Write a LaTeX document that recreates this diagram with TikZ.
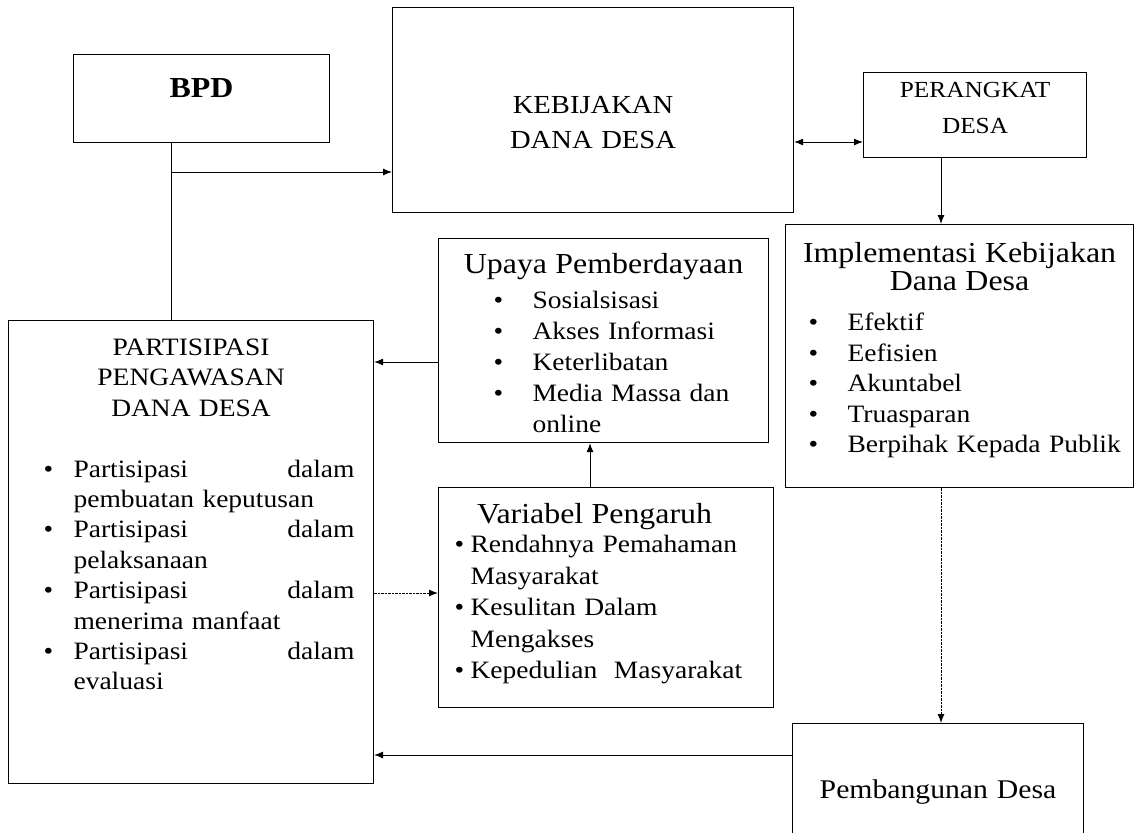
\documentclass[tikz,border=0pt]{standalone}
\usepackage{fontspec}
\setmainfont[FakeStretch=1.1]{Liberation Serif}
\usepackage{tikz}
\usetikzlibrary{arrows.meta,positioning,calc}

% list lines inside the boxes
\newcommand{\itm}[3]{\makebox[#2][l]{\hspace*{#1}\makebox[0pt]{\textbullet}}#3}
\newcommand{\cnt}[2]{\hspace*{#1}#2}
\newcommand{\ttl}[2][29]{\makebox[\linewidth]{\fontsize{#1}{#1}\selectfont #2}}

\begin{document}
\begin{tikzpicture}[x=1pt, y=-1pt,
    box/.style={rectangle, draw=black, line width=1.1pt, inner sep=0pt, anchor=north west, font=\fontsize{25}{31}\selectfont},
    arrow/.style={-{Latex[length=9pt,width=7pt]}, line width=1pt},
    biarrow/.style={{Latex[length=9pt,width=7pt]}-{Latex[length=9pt,width=7pt]}, line width=1pt},
    scanline/.style={dash pattern=on 2.5pt off 1pt}]

\useasboundingbox (0,0) rectangle (1136,833);
\clip (0,0) rectangle (1136,833);

% Top row
\node[box, text width=256pt, align=center, text height=43pt, text depth=45pt, font=\fontsize{29}{29}\selectfont\bfseries] (bpd) at (73,54) {BPD};
\node[box, text width=401pt, align=center, text height=106pt, text depth=99pt, font=\fontsize{26}{35}\selectfont] (kebijakan) at (392,7) {KEBIJAKAN\\DANA DESA};
\node[box, text width=223pt, align=center, text height=25pt, text depth=60pt, font=\fontsize{23}{36}\selectfont] (perangkat) at (863,72) {PERANGKAT\\DESA};

% Middle boxes
\node[box, text width=330pt, align=left, text height=35pt, text depth=169pt] (upaya) at (438,238) {
    \ttl{Upaya Pemberdayaan}\\[4pt]
    \itm{60pt}{94pt}{Sosialsisasi}\\
    \itm{60pt}{94pt}{Akses Informasi}\\
    \itm{60pt}{94pt}{Keterlibatan}\\
    \itm{60pt}{94pt}{Media Massa dan}\\
    \cnt{94pt}{online}
};
\node[box, text width=348pt, align=left, text height=38pt, text depth=225pt, font=\fontsize{25}{30.5}\selectfont] (implementasi) at (785,224) {
    \ttl{Implementasi Kebijakan}\\[-2.5pt]
    \ttl{Dana Desa}\\[9.5pt]
    \itm{28pt}{62pt}{Efektif}\\
    \itm{28pt}{62pt}{Eefisien}\\
    \itm{28pt}{62pt}{Akuntabel}\\
    \itm{28pt}{62pt}{Truasparan}\\
    \itm{28pt}{62pt}{Berpihak Kepada Publik}
};
\node[box, text width=327pt, inner xsep=19pt, align=left, text height=35pt, text depth=428pt, font=\fontsize{25}{30.4}\selectfont] (partisipasi) at (8,320) {
    \ttl[25]{PARTISIPASI}\\
    \ttl[25]{PENGAWASAN}\\
    \ttl[25]{DANA DESA}\\[30.4pt]
    \itm{21pt}{46pt}{Partisipasi\hfill dalam}\\
    \cnt{46pt}{pembuatan keputusan}\\
    \itm{21pt}{46pt}{Partisipasi\hfill dalam}\\
    \cnt{46pt}{pelaksanaan}\\
    \itm{21pt}{46pt}{Partisipasi\hfill dalam}\\
    \cnt{46pt}{menerima manfaat}\\
    \itm{21pt}{46pt}{Partisipasi\hfill dalam}\\
    \cnt{46pt}{evaluasi}
};
\node[box, text width=335pt, align=left, text height=36pt, text depth=184pt, font=\fontsize{25}{31.5}\selectfont] (variabel) at (438,487) {
    \ttl{Variabel Pengaruh\hspace*{23pt}}\\[-2.5pt]
    \itm{21pt}{32pt}{Rendahnya Pemahaman}\\
    \cnt{32pt}{Masyarakat}\\
    \itm{21pt}{32pt}{Kesulitan Dalam}\\
    \cnt{32pt}{Mengakses}\\
    \itm{21pt}{32pt}{Kepedulian\ \ Masyarakat}
};
\node[box, text width=291pt, align=center, text height=75pt, text depth=62pt, font=\fontsize{27}{27}\selectfont] (pembangunan) at (792,723) {Pembangunan Desa};

% Connectors
\coordinate (bpd_split) at (171,172);
\coordinate (keb_row) at (0,142);
\coordinate (imp_col) at (941,0);
\coordinate (upa_row) at (0,362);
\coordinate (var_col) at (590,0);
\coordinate (var_row) at (0,593);
\coordinate (pem_row) at (0,755);

\draw[line width=1pt] (bpd_split |- bpd.south) -- (bpd_split |- partisipasi.north);
\draw[arrow] (bpd_split) -- (bpd_split -| kebijakan.west);
\draw[biarrow] (keb_row -| kebijakan.east) -- (keb_row -| perangkat.west);
\draw[arrow] (imp_col |- perangkat.south) -- (imp_col |- implementasi.north);
\draw[arrow, scanline] (imp_col |- implementasi.south) -- (imp_col |- pembangunan.north);
\draw[arrow] (pem_row -| pembangunan.west) -- (pem_row -| partisipasi.east);
\draw[arrow] (upa_row -| upaya.west) -- (upa_row -| partisipasi.east);
\draw[arrow] (var_col |- variabel.north) -- (var_col |- upaya.south);
\draw[arrow, scanline] (var_row -| partisipasi.east) -- (var_row -| variabel.west);

\end{tikzpicture}
\end{document}
